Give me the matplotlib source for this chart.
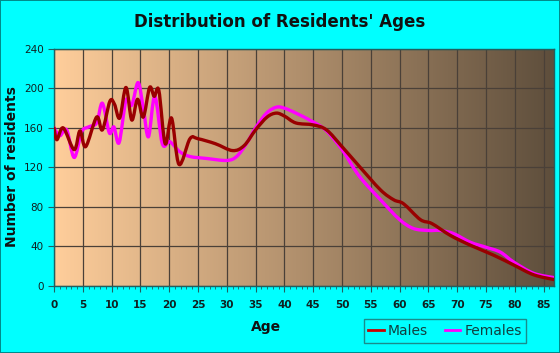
import matplotlib.pyplot as plt
import numpy as np
from matplotlib.path import Path
from matplotlib.patches import PathPatch
from matplotlib.lines import Line2D

# values (age, residents)
male_age = [0, 0.5, 1.6, 3.5, 4.5, 5.5, 7.4, 8.4, 9.7, 10.5, 11.4, 12.5, 13.5, 14.5,
            15.5, 16.6, 17.4, 18.2, 19.3, 20.4, 21.7, 23.6, 25, 28, 31, 33, 35, 37,
            38.6, 40, 42, 45, 47.3, 50, 53, 56.7, 59, 60.7, 63.6, 65.6, 68.8, 72.3,
            76.3, 79.8, 83.3, 87]
male_val = [160, 148, 160, 138, 157, 141, 171, 158, 187, 184, 170, 201, 168, 189,
            171, 201, 192, 198, 144, 170, 123, 149, 149, 144, 137, 142, 158, 171,
            175, 172, 165, 163, 158, 141, 121, 97, 87, 83, 67, 63, 51, 41,
            31, 21, 11, 6]

female_age = [0, 1, 2.2, 3.5, 4.8, 6, 7.4, 8.4, 9.6, 10.4, 11.3, 12.5, 13.5, 14.6,
              15.5, 16.4, 17.5, 18.8, 20.1, 21.8, 23.6, 26.5, 30, 31.7, 33.4, 35,
              36.9, 38.6, 40, 42, 45, 47.3, 50, 53, 56.7, 60, 62.4, 65, 67, 69.3,
              72.3, 75, 77.5, 79.8, 83.3, 87]
female_val = [160, 152, 158, 130, 156, 161, 165, 185, 155, 161, 145, 188, 183, 206,
              180, 151, 192, 144, 146, 136, 131, 129, 127, 131, 144, 160,
              175, 181, 180, 175, 166, 157, 138, 111, 87, 67, 58, 56, 56, 53,
              44, 39, 34, 24, 12.5, 8]

xticks = list(range(0, 90, 5))
yticks = list(range(0, 241, 40))


def smooth_path(xs, ys):
    p = np.column_stack([xs, ys]).astype(float)
    n = len(p)
    verts = [p[0]]
    codes = [Path.MOVETO]
    for i in range(n - 1):
        p0 = p[i - 1] if i > 0 else p[i]
        p3 = p[i + 2] if i + 2 < n else p[i + 1]
        c1 = p[i] + (p[i + 1] - p0) / 6
        c2 = p[i + 1] - (p3 - p[i]) / 6
        verts += [c1, c2, p[i + 1]]
        codes += [Path.CURVE4] * 3
    return Path(verts, codes)


fig = plt.figure(figsize=(5.6, 3.53), dpi=100, facecolor='#00FFFF',
                 edgecolor='#008B8B', linewidth=1.2)
ax = fig.add_axes([54 / 560, 1 - 285.7 / 353, 500 / 560, 236.7 / 353])
ax.set_xlim(0, 86.8)
ax.set_ylim(0, 240)

# gradient background
left = np.array([255, 206, 155]) / 255
right = np.array([94, 78, 60]) / 255
t = np.linspace(0, 1, 256)[None, :, None]
grad = left + (right - left) * t
ax.imshow(grad, extent=[0, 86.8, 0, 240], aspect='auto', zorder=0)

ax.set_xticks(xticks)
ax.set_xticks(range(0, 87), minor=True)
ax.set_yticks(yticks)
ax.grid(True, which='major', color='#4a4038', linewidth=0.9, zorder=1)
ax.tick_params(axis='both', which='major', direction='out', length=4,
               color='#206060', labelsize=7.5, labelcolor='#102020')
ax.tick_params(axis='x', which='minor', direction='out', length=2.5, color='#206060')
ax.tick_params(axis='x', pad=6)
for s in ax.spines.values():
    s.set_color('#206060')
    s.set_linewidth(1)
for lab in ax.get_xticklabels():
    lab.set_fontweight('bold')

ax.add_patch(PathPatch(smooth_path(female_age, female_val), fill=False,
                       edgecolor='#FF00FF', linewidth=2.4, zorder=3,
                       capstyle='round', joinstyle='round'))
ax.add_patch(PathPatch(smooth_path(male_age, male_val), fill=False,
                       edgecolor='#990000', linewidth=2.4, zorder=4,
                       capstyle='round', joinstyle='round'))

fig.text(0.5, 1 - 22 / 353, "Distribution of Residents' Ages", ha='center',
         va='center', fontsize=12, fontweight='bold', color='#111111')
fig.text(12 / 560, 1 - 167 / 353, 'Number of residents', rotation=90, ha='center',
         va='center', fontsize=10, fontweight='bold', color='#111111')
fig.text(266 / 560, 1 - 327 / 353, 'Age', ha='center', va='center',
         fontsize=10, fontweight='bold', color='#111111')

handles = [Line2D([], [], color='#CC0000', linewidth=2),
           Line2D([], [], color='#FF00FF', linewidth=2)]
leg = fig.legend(handles, ['Males', 'Females'], loc='center',
                 bbox_to_anchor=(445 / 560, 1 - 331 / 353), ncol=2,
                 frameon=True, fancybox=False, fontsize=10, handlelength=1.1,
                 handletextpad=0.3, columnspacing=1.2, borderpad=0.35)
leg.get_frame().set_facecolor('#00FFFF')
leg.get_frame().set_edgecolor('#207070')
leg.get_frame().set_linewidth(1)
for txt in leg.get_texts():
    txt.set_color('#104040')

fig.savefig('out.png', dpi=100, facecolor='#00FFFF', edgecolor='#008B8B')
